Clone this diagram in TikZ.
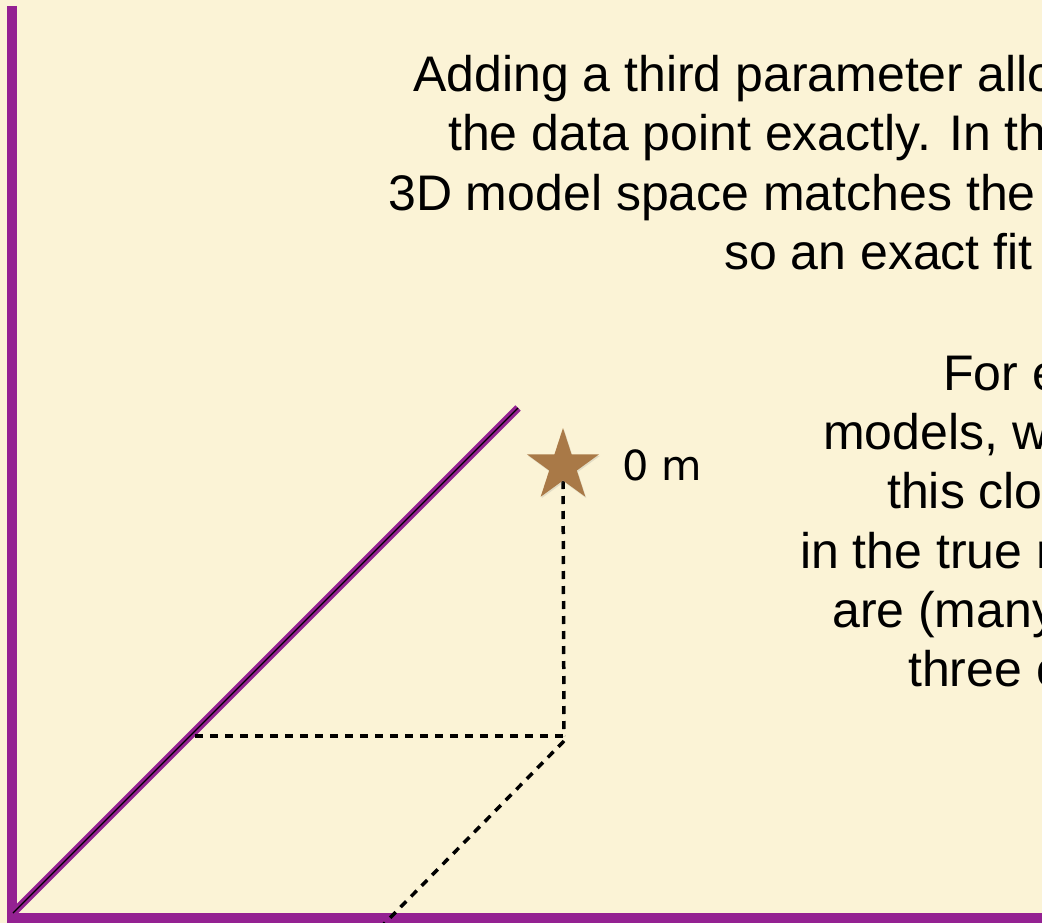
\documentclass[tikz,border=0pt]{standalone}
\usepackage{fontspec}
\setmainfont{Liberation Sans}
\newfontfamily\tagfont{DejaVu Sans}
\usetikzlibrary{shapes.geometric,shadows}
\definecolor{paper}{RGB}{251,243,214}
\definecolor{plum}{RGB}{148,33,146}
\definecolor{bronze}{RGB}{169,121,71}

\begin{document}
\begin{tikzpicture}[x=1pt, y=-1pt,
  axisline/.style={draw=plum, line width=10pt},
  fitline/.style={draw=plum, line width=7.5pt},
  guide/.style={draw=black, line width=3.5pt, dash pattern=on 8pt off 7pt},
  note/.style={anchor=base west, inner sep=0pt, font=\fontsize{50}{59}\selectfont}]
  % paper
  \fill[paper] (0,0) rectangle (1042,923);
  \useasboundingbox (0,0) rectangle (1042,923);
  \clip (0,0) rectangle (1042,923);

  % axes
  \coordinate (ytop) at (12,6);
  \coordinate (ybot) at (12,923);
  \coordinate (origin) at (12,918);
  \coordinate (xend) at (1050,918);
  \draw[axisline] (ytop) -- (ybot);
  \draw[axisline, line cap=rect] (origin) -- (xend);

  % model line
  \coordinate (fitstart) at (13,913);
  \coordinate (fitend) at (518,408);
  \draw[fitline] (fitstart) -- (fitend);
  \draw[line width=1.4pt] (fitstart) -- (fitend);

  % projections of the data point
  \coordinate (datumc) at (563,466);
  \coordinate (foot) at (564,736);
  \coordinate (meet) at (195,736);
  \coordinate (slant) at (564,741);
  \coordinate (floor) at (382,926);
  \draw[guide] (datumc) -- (foot);
  \draw[guide] (meet) -- (foot);
  \draw[guide] (slant) -- (floor);
  \node[star, star points=5, star point ratio=2.618, minimum size=76pt, inner sep=0pt,
        fill=bronze, drop shadow={opacity=0.2, shadow xshift=1pt, shadow yshift=-1.5pt}] (datum) at (datumc) {};
  \node[anchor=base west, inner sep=0pt, font=\tagfont\fontsize{41.5}{48}\selectfont] (datumtag) at (622,480) {0 m};

  % text
  \node[note] (fitnote1) at (413,92) {Adding a third parameter allo};
  \node[note] (fitnote2) at (448,151) {the data point exactly. In th};
  \node[note] (fitnote3) at (388,211) {3D model space matches the};
  \node[note] (fitnote4) at (724,269) {so an exact fit};

  \node[note] (hint1) at (943,390) {For e};
  \node[note] (hint2) at (823,449) {models, w};
  \node[note] (hint3) at (887,508) {this clo};
  \node[note] (hint4) at (800,568) {in the true r};
  \node[note] (hint5) at (832,627) {are (many};
  \node[note] (hint6) at (908,686) {three c};
\end{tikzpicture}
\end{document}
